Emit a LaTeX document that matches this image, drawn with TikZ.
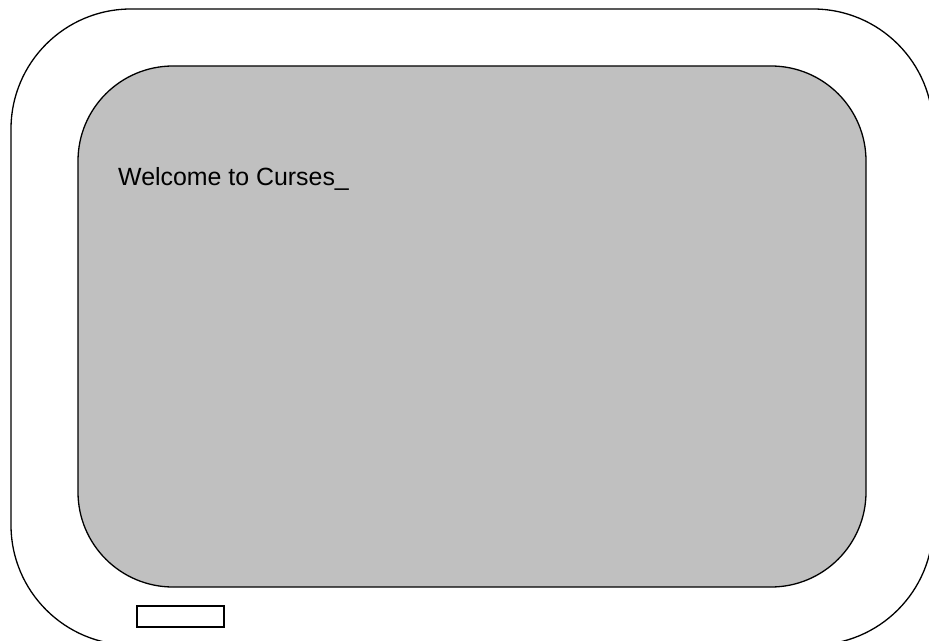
\documentclass[tikz,border=0pt]{standalone}
\usepackage{fontspec}
\setmainfont{Liberation Sans}
\begin{document}
\begin{tikzpicture}[x=1bp,y=-1bp,
  edge/.style={draw=black,line width=1.3bp},
  screen/.style={edge,fill=screengray},
  label/.style={font=\fontsize{24.9bp}{28bp}\selectfont,text=black,inner sep=0pt,anchor=base west}]
\definecolor{screengray}{HTML}{C0C0C0}
\useasboundingbox (0,0) rectangle (929,641);
\clip (0,0) rectangle (929,641);
\draw[edge,rounded corners=120bp] (11,9) rectangle (933,645);
\draw[screen,rounded corners=95bp] (78,66) rectangle (866,587);
\draw[edge,fill=white] (137,606) rectangle (224,627);
\node[label] (welcome) at (118,186) {Welcome to Curses\_};
\end{tikzpicture}
\end{document}
